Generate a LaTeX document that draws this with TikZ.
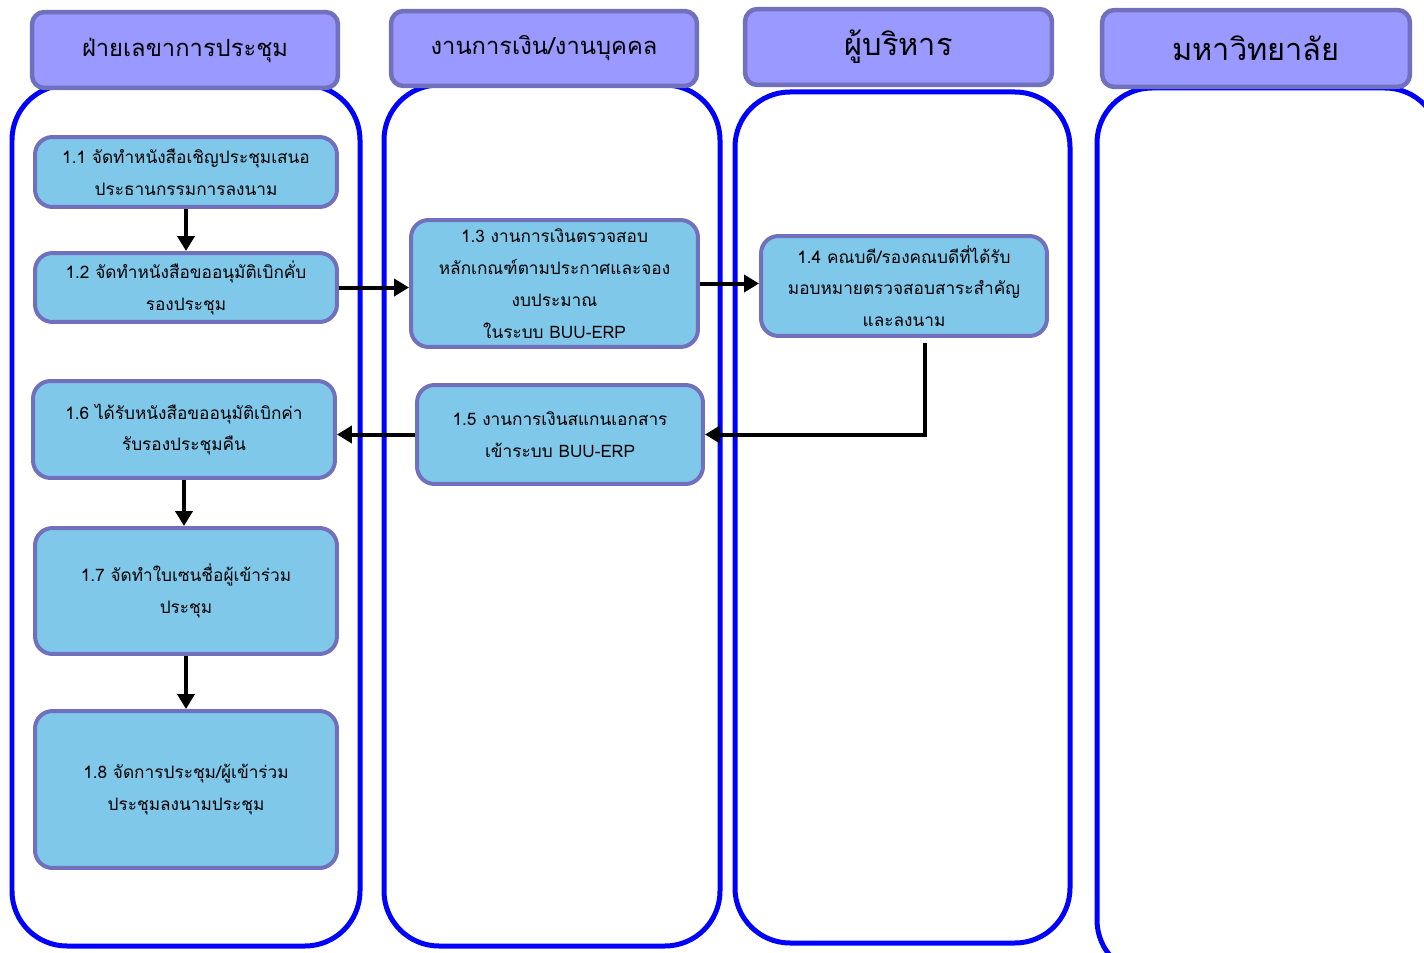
\documentclass[tikz,border=0pt]{standalone}
\usepackage{fontspec}
\newfontfamily\thaifont[Script=Thai]{Loma}
\usetikzlibrary{arrows.meta}
\definecolor{laneblue}{RGB}{0,0,255}
\definecolor{headfill}{RGB}{153,153,255}
\definecolor{edgeviolet}{RGB}{112,112,188}
\definecolor{stepfill}{RGB}{128,200,234}
\tikzset{
  lane/.style = {draw = laneblue, line width = 0.1cm, rounded corners = 1.1cm},
  header/.style = {draw = edgeviolet, fill = headfill, line width = 0.09cm,
    rounded corners = 0.25cm, font = \thaifont\fontsize{13.5}{18}\selectfont},
  bighead/.style = {header, font = \thaifont\fontsize{17.5}{22}\selectfont},
  stepbox/.style = {draw = edgeviolet, fill = stepfill, line width = 0.08cm,
    rounded corners = 0.35cm, align = center, inner sep = 2pt,
    font = \thaifont\fontsize{9.8}{18.1}\selectfont},
  flow/.style = {line width = 0.08cm, -{Triangle[length = 0.3cm, width = 0.34cm]}}
}
\begin{document}
\begin{tikzpicture}[x = 0.02cm, y = -0.02cm]
  \clip (0, 0) rectangle (1424, 953);
  \fill[white] (0, 0) rectangle (1424, 953);
  % swimlanes
  \draw[lane] (12, 85) rectangle (360, 946);
  \draw[lane] (384, 85) rectangle (720, 946);
  \draw[lane] (735, 92) rectangle (1070, 943);
  \draw[lane] (1097, 88) rectangle (1440, 975);
  % lane headers
  \node[header, minimum width = 6.12cm, minimum height = 1.52cm] (h1) at (185, 50) {ฝ่ายเลขาการประชุม};
  \node[header, minimum width = 6.12cm, minimum height = 1.5cm] (h2) at (544, 48.5) {งานการเงิน/งานบุคคล};
  \node[bighead, minimum width = 6.14cm, minimum height = 1.52cm] (h3) at (898.5, 47) {ผู้บริหาร};
  \node[bighead, minimum width = 6.16cm, minimum height = 1.54cm] (h4) at (1256, 48.5) {มหาวิทยาลัย};
  % steps
  \node[stepbox, minimum width = 6.04cm, minimum height = 1.4cm] (s11) at (186, 172)
    {1.1 จัดทำหนังสือเชิญประชุมเสนอ\\ประธานกรรมการลงนาม};
  \node[stepbox, minimum width = 6.04cm, minimum height = 1.38cm] (s12) at (186, 287.5)
    {1.2 จัดทำหนังสือขออนุมัติเบิกคั่บ\\รองประชุม};
  \node[stepbox, minimum width = 5.74cm, minimum height = 2.54cm] (s13) at (554.5, 283.5)
    {1.3 งานการเงินตรวจสอบ\\หลักเกณฑ์ตามประกาศและจอง\\งบประมาณ\\ในระบบ BUU-ERP};
  \node[stepbox, minimum width = 5.72cm, minimum height = 2cm] (s14) at (904, 286)
    {1.4 คณบดี/รองคณบดีที่ได้รับ\\มอบหมายตรวจสอบสาระสำคัญ\\และลงนาม};
  \node[stepbox, minimum width = 5.72cm, minimum height = 1.98cm] (s15) at (560, 434.5)
    {1.5 งานการเงินสแกนเอกสาร\\เข้าระบบ BUU-ERP};
  \node[stepbox, minimum width = 6.04cm, minimum height = 1.94cm] (s16) at (184, 429.5)
    {1.6 ได้รับหนังสือขออนุมัติเบิกค่า\\รับรองประชุมคืน};
  \node[stepbox, minimum width = 6.04cm, minimum height = 2.52cm] (s17) at (186, 591)
    {1.7 จัดทำใบเซนชื่อผู้เข้าร่วม\\ประชุม};
  \node[stepbox, minimum width = 6.04cm, minimum height = 3.14cm] (s18) at (186, 789.5)
    {1.8 จัดการประชุม/ผู้เข้าร่วม\\ประชุมลงนามประชุม};
  \coordinate (c14) at (925, 343);
  % connectors
  \draw[flow] (s11) -- (s12);
  \draw[flow] (s12.east) -- (s12.east -| s13.west);
  \draw[flow] (s13.east) -- (s13.east -| s14.west);
  \draw[flow] (c14) |- (s15.east);
  \draw[flow] (s15.west) -- (s15.west -| s16.east);
  \draw[flow] (s16.south) -- (s16.south |- s17.north);
  \draw[flow] (s17) -- (s18);
\end{tikzpicture}
\end{document}
